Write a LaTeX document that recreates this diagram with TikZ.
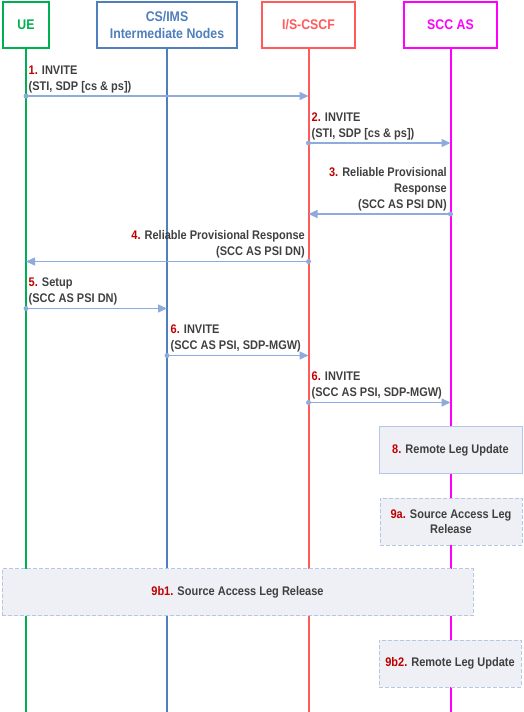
\documentclass[tikz,border=0pt]{standalone}
\usepackage{fontspec}
\setmainfont{Liberation Sans}
\newfontfamily\narrowfont{Liberation Sans}[FakeStretch=0.88]
\usetikzlibrary{arrows.meta}
\definecolor{uegreen}{HTML}{00B050}
\definecolor{csblue}{HTML}{4F7FBC}
\definecolor{iscred}{HTML}{FF5B5B}
\definecolor{sccmag}{HTML}{FF00FF}
\definecolor{msgcol}{HTML}{8FAADC}
\definecolor{txtcol}{HTML}{404040}
\definecolor{numcol}{HTML}{C00000}
\definecolor{boxfill}{HTML}{EEF0F5}
\definecolor{boxline}{HTML}{B4C7E7}
\newcommand\stepnum[1]{\textcolor{numcol}{#1}}
\begin{document}
\begin{tikzpicture}[x=1pt,y=-1pt,
  head/.style={draw, line width=2pt, fill=white, minimum height=46pt, inner sep=0pt,
    font=\narrowfont\fontsize{14}{17}\selectfont\bfseries, align=center},
  life/.style={line width=2pt},
  msg/.style={draw=msgcol, line width=1.5pt, -{Triangle[length=9pt,width=8pt]}},
  sdot/.style={circle, fill=msgcol, inner sep=0pt, minimum size=5pt},
  lbl/.style={font=\narrowfont\fontsize{12.5}{16}\selectfont\bfseries, text=txtcol, inner sep=0pt},
  note/.style={draw=boxline, fill=boxfill, line width=1pt, inner sep=0pt,
    font=\narrowfont\fontsize{12.5}{15}\selectfont\bfseries, text=txtcol, align=center},
  dnote/.style={note, dash pattern=on 4pt off 2pt}
]
\useasboundingbox (0,0) rectangle (524,712);
\coordinate (bot) at (0,712);
% headers
\node[head, draw=uegreen, text=uegreen, minimum width=46pt] (ue) at (26,25) {UE};
\node[head, draw=csblue, text=csblue, minimum width=140pt] (cs) at (167,25) {CS/IMS\\Intermediate Nodes};
\node[head, draw=iscred, text=iscred, minimum width=93pt] (isc) at (308.5,25) {I/S-CSCF};
\node[head, draw=sccmag, text=sccmag, minimum width=93pt] (scc) at (450.5,25) {SCC AS};
% lifelines
\draw[life, uegreen] (ue.south) -- (ue.south |- bot);
\draw[life, csblue] (cs.south) -- (cs.south |- bot);
\draw[life, iscred] (isc.south) -- (isc.south |- bot);
\draw[life, sccmag] (scc.south) -- (scc.south |- bot);
% row coordinates
\coordinate (r1) at (0,96);
\coordinate (r2) at (0,143);
\coordinate (r3) at (0,214);
\coordinate (r4) at (0,261.5);
\coordinate (r5) at (0,308.5);
\coordinate (r6) at (0,355.5);
\coordinate (r7) at (0,402.5);
% message 1
\draw[msg] (ue |- r1) -- (isc |- r1);
\node[sdot] (d1) at (ue |- r1) {};
\node[lbl, anchor=base west, align=left] (l1) at (28.5,90) {\stepnum{1.} INVITE\\(STI, SDP [cs \& ps])};
% message 2
\draw[msg] (isc |- r2) -- (scc |- r2);
\node[sdot] (d2) at (isc |- r2) {};
\node[lbl, anchor=base west, align=left] (l2) at (311.5,137) {\stepnum{2.} INVITE\\(STI, SDP [cs \& ps])};
% message 3
\draw[msg] (scc |- r3) -- (isc |- r3);
\node[sdot] (d3) at (scc |- r3) {};
\node[lbl, anchor=base east, align=right] (l3) at (447,208) {\stepnum{3.} Reliable Provisional\\Response\\(SCC AS PSI DN)};
% message 4
\draw[msg] (isc |- r4) -- (ue |- r4);
\node[sdot] (d4) at (isc |- r4) {};
\node[lbl, anchor=base east, align=right] (l4) at (305,255.5) {\stepnum{4.} Reliable Provisional Response\\(SCC AS PSI DN)};
% message 5
\draw[msg] (ue |- r5) -- (cs |- r5);
\node[sdot] (d5) at (ue |- r5) {};
\node[lbl, anchor=base west, align=left] (l5) at (28.5,302.5) {\stepnum{5.} Setup\\(SCC AS PSI DN)};
% message 6a
\draw[msg] (cs |- r6) -- (isc |- r6);
\node[sdot] (d6) at (cs |- r6) {};
\node[lbl, anchor=base west, align=left] (l6) at (170.5,349.5) {\stepnum{6.} INVITE\\(SCC AS PSI, SDP-MGW)};
% message 6b
\draw[msg] (isc |- r7) -- (scc |- r7);
\node[sdot] (d7) at (isc |- r7) {};
\node[lbl, anchor=base west, align=left] (l7) at (311.5,396.5) {\stepnum{6.} INVITE\\(SCC AS PSI, SDP-MGW)};
% boxes
\node[note, minimum width=143pt, minimum height=47pt] (b8) at (450.5,450) {\stepnum{8.} Remote Leg Update};
\node[dnote, minimum width=142pt, minimum height=47pt] (b9a) at (451,521.5) {\stepnum{9a.} Source Access Leg\\Release};
\node[dnote, minimum width=471pt, minimum height=47pt] (b9b1) at (237.5,592) {\stepnum{9b1.} Source Access Leg Release};
\node[dnote, minimum width=142pt, minimum height=47pt] (b9b2) at (450,663.5) {\stepnum{9b2.} Remote Leg Update};
\end{tikzpicture}
\end{document}
